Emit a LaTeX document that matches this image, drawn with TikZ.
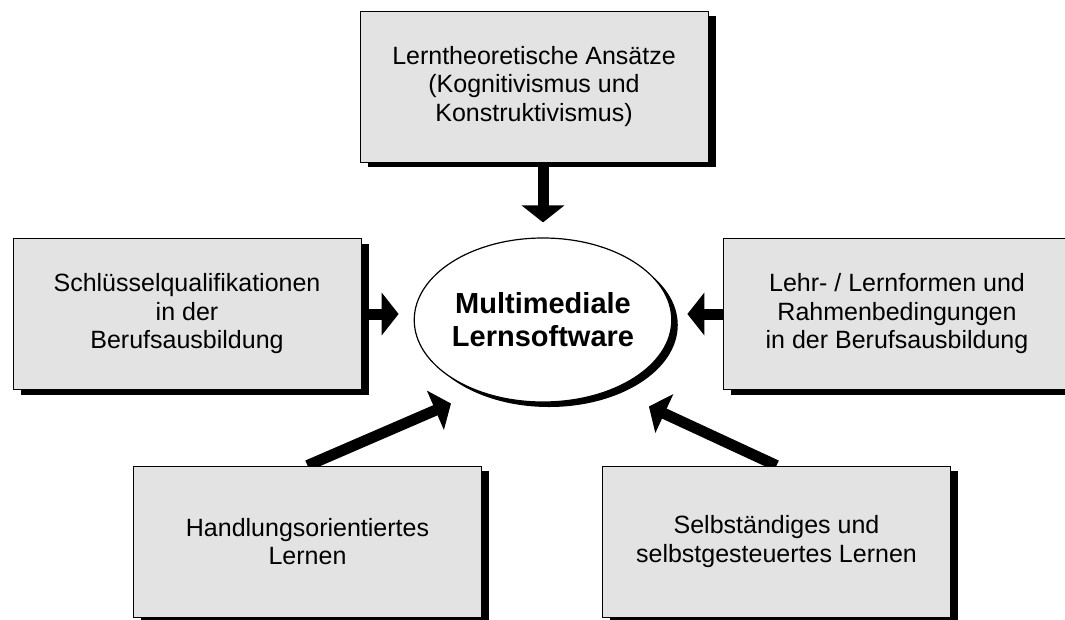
\documentclass[tikz,border=0pt]{standalone}
\usepackage{fontspec}
\setmainfont{Liberation Sans}
\usepackage{xcolor}
\usepackage{tikz}
\usetikzlibrary{arrows.meta,shapes.geometric,shadows,backgrounds}
\definecolor{boxgray}{RGB}{227,227,227}

\begin{document}
\begin{tikzpicture}[x=1pt, y=-1pt,
  factor/.style={draw, line width=0.9pt, fill=boxgray, align=center, inner sep=0pt,
              minimum width=348pt, minimum height=151pt, font=\fontsize{25}{28.5}\selectfont,
              drop shadow={shadow xshift=7.5pt, shadow yshift=-5pt, fill=black, opacity=1}},
  core/.style={draw, ellipse, line width=1.2pt, fill=white, align=center, inner sep=0pt,
              minimum width=244pt, minimum height=164pt, font=\fontsize{29}{33}\selectfont\bfseries,
              drop shadow={shadow xshift=6pt, shadow yshift=-5pt, fill=black, opacity=1}},
  arrow/.style={-{Triangle[length=17pt, width=42pt]}, line width=11pt},
]
  \useasboundingbox (0,0) rectangle (1065,619);

  % Influences (boxes)
  \node[factor] (theory) at (534,86.5) {Lerntheoretische Ansätze\\(Kognitivismus und\\Konstruktivismus)};
  \node[factor] (keyskills) at (187,314) {Schlüsselqualifikationen\\in der\\Berufsausbildung};
  \node[factor] (forms) at (897,314) {Lehr- / Lernformen und\\Rahmenbedingungen\\in der Berufsausbildung};
  \node[factor] (action) at (307.5,541.5) {Handlungsorientiertes\\Lernen};
  \node[factor] (selfreg) at (776.5,541.5) {Selbständiges und\\selbstgesteuertes Lernen};

  % Centre
  \node[core] (software) at (543,320) {Multimediale\\Lernsoftware};

  % Boxes to centre
  \begin{scope}[on background layer]
    \draw[arrow, shorten >=15pt] (theory.south -| software.north) -- (software.north);
    \draw[arrow, shorten >=15pt] (keyskills.east) -- (keyskills.east -| software.west);
    \draw[arrow, shorten >=15pt] (forms.west) -- (forms.west -| software.east);
    \draw[arrow, shorten >=30pt] (action.north) -- (software.228);
    \draw[arrow, shorten >=40pt] (selfreg.north) -- (software.315);
  \end{scope}
\end{tikzpicture}
\end{document}
